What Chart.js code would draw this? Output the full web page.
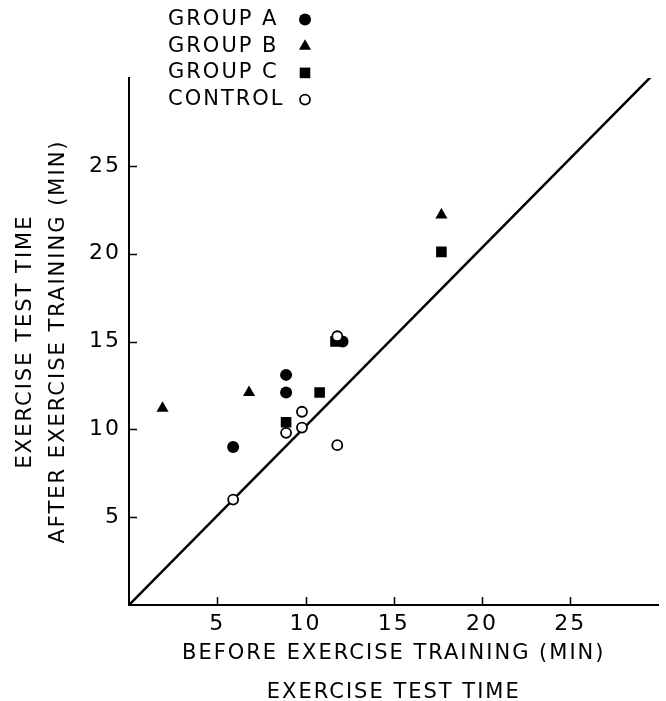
<!DOCTYPE html>
<html>
<head>
<meta charset="utf-8">
<script src="https://cdn.jsdelivr.net/npm/chart.js@4.4.1/dist/chart.umd.min.js"></script>
<style>
  html, body { margin: 0; padding: 0; background: #fff; }
  #wrap { width: 666px; height: 701px; }
</style>
</head>
<body>
<div id="wrap"><canvas id="chart" width="666" height="701"></canvas></div>
<script>
// values (minutes)
var groupA = [{x: 5.9, y: 9.0}, {x: 8.9, y: 12.1}, {x: 8.9, y: 13.1}, {x: 12.1, y: 15.0}];
var groupB = [{x: 1.9, y: 11.2}, {x: 6.8, y: 12.1}, {x: 17.7, y: 22.2}];
var groupC = [{x: 8.9, y: 10.4}, {x: 10.8, y: 12.1}, {x: 11.7, y: 15.0}, {x: 17.7, y: 20.1}];
var control = [{x: 5.9, y: 6.0}, {x: 8.9, y: 9.8}, {x: 9.8, y: 10.1}, {x: 9.8, y: 11.0},
               {x: 11.8, y: 9.1}, {x: 11.8, y: 15.3}];
var identityLine = [{x: 0, y: 0}, {x: 29.6, y: 30.1}];

var seriesNames = ["GROUP A", "GROUP B", "GROUP C", "CONTROL"];
var xTitle = ["BEFORE EXERCISE TRAINING (MIN)", "EXERCISE TEST TIME"];
var yTitle = ["EXERCISE TEST TIME", "AFTER EXERCISE TRAINING (MIN)"];
var axisMin = 0, axisMax = 30, axisStep = 5;

Chart.defaults.font.family = "'DejaVu Sans', sans-serif";
Chart.defaults.color = "#000";

var styles = [
  {pointStyle: "circle", radius: 6, fill: "#000", borderWidth: 0},
  {pointStyle: "triangle", radius: 7, fill: "#000", borderWidth: 0},
  {pointStyle: "rect", radius: 7.5, fill: "#000", borderWidth: 0},
  {pointStyle: "circle", radius: 5, fill: "#fff", borderWidth: 1.8}
];

function pointSet(label, data, s) {
  return {
    label: label,
    data: data,
    pointStyle: s.pointStyle,
    pointRadius: s.radius,
    pointHoverRadius: s.radius,
    pointBackgroundColor: s.fill,
    pointBorderColor: "#000",
    pointBorderWidth: s.borderWidth,
    showLine: false
  };
}

function hideEnds(v) {
  return (v === axisMin || v === axisMax) ? "" : v;
}

var spacing = {
  id: "spacing",
  beforeLayout: function (chart) { chart.ctx.letterSpacing = "2px"; },
  beforeDraw: function (chart) { chart.ctx.letterSpacing = "2px"; }
};

// small tick marks pointing into the plot
var innerTicks = {
  id: "innerTicks",
  afterDraw: function (chart) {
    var ctx = chart.ctx, xs = chart.scales.x, ys = chart.scales.y;
    var a = chart.chartArea;
    ctx.save();
    ctx.strokeStyle = "#000";
    ctx.lineWidth = 1.5;
    ctx.beginPath();
    xs.ticks.forEach(function (t) {
      if (t.value === axisMin || t.value === axisMax) return;
      var px = Math.round(xs.getPixelForValue(t.value)) + 0.5;
      ctx.moveTo(px, a.bottom);
      ctx.lineTo(px, a.bottom - 8);
    });
    ys.ticks.forEach(function (t) {
      if (t.value === axisMin || t.value === axisMax) return;
      var py = Math.round(ys.getPixelForValue(t.value)) + 0.5;
      ctx.moveTo(a.left, py);
      ctx.lineTo(a.left + 8, py);
    });
    ctx.stroke();
    ctx.restore();
  }
};

// legend: name then marker, top left above the plot
var sideLegend = {
  id: "sideLegend",
  afterDraw: function (chart) {
    var ctx = chart.ctx;
    ctx.save();
    ctx.letterSpacing = "2px";
    ctx.font = "21px 'DejaVu Sans'";
    ctx.textBaseline = "middle";
    ctx.textAlign = "left";
    seriesNames.forEach(function (name, i) {
      var y = 19.5 + i * 26.7;
      var s = styles[i];
      ctx.fillStyle = "#000";
      ctx.fillText(name, 168, y);
      ctx.fillStyle = s.fill;
      ctx.strokeStyle = "#000";
      ctx.lineWidth = s.borderWidth;
      Chart.helpers.drawPoint(ctx, {pointStyle: s.pointStyle, radius: s.radius, rotation: 0, borderWidth: s.borderWidth}, 305, y);
    });
    ctx.restore();
  }
};

new Chart(document.getElementById("chart"), {
  type: "scatter",
  data: {
    datasets: [
      pointSet(seriesNames[3], control, styles[3]),
      pointSet(seriesNames[0], groupA, styles[0]),
      pointSet(seriesNames[1], groupB, styles[1]),
      pointSet(seriesNames[2], groupC, styles[2]),
      {
        label: "line of identity",
        data: identityLine,
        showLine: true,
        borderColor: "#000",
        borderWidth: 2.5,
        pointRadius: 0,
        pointHoverRadius: 0
      }
    ]
  },
  options: {
    responsive: false,
    animation: false,
    devicePixelRatio: 1,
    layout: { padding: { left: 0, right: 5, top: 78, bottom: 0 } },
    plugins: {
      legend: { display: false },
      tooltip: { enabled: false }
    },
    scales: {
      x: {
        type: "linear",
        min: axisMin,
        max: axisMax,
        grid: { display: false, drawTicks: false },
        border: { display: true, color: "#000", width: 2 },
        ticks: { stepSize: axisStep, padding: 6, font: { size: 22 }, callback: hideEnds, maxRotation: 0 },
        title: { display: true, text: xTitle, font: { size: 21, lineHeight: 1.857 }, padding: { top: 0, bottom: -11 } },
        afterFit: function (s) { s.height = 96; }
      },
      y: {
        type: "linear",
        min: axisMin,
        max: axisMax,
        grid: { display: false, drawTicks: false },
        border: { display: true, color: "#000", width: 2 },
        ticks: { stepSize: axisStep, padding: 8, font: { size: 22 }, callback: hideEnds },
        title: { display: true, text: yTitle, font: { size: 21, lineHeight: 1.57 }, padding: { top: 9, bottom: 0 } },
        afterFit: function (s) { s.width = 129; }
      }
    }
  },
  plugins: [spacing, innerTicks, sideLegend]
});
</script>
</body>
</html>
